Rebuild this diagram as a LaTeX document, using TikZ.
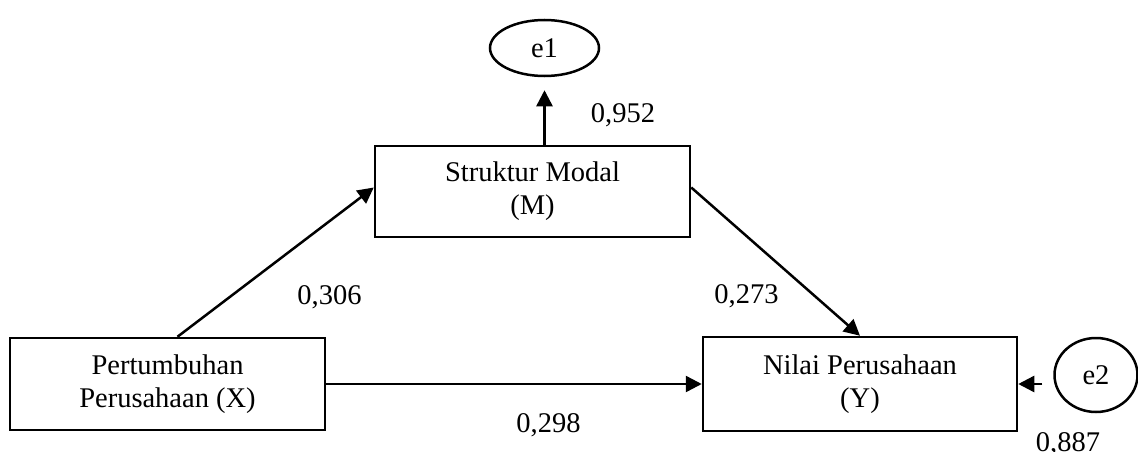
\documentclass[tikz,border=0pt]{standalone}
\usepackage{fontspec}
\setmainfont{Liberation Serif}
\usetikzlibrary{arrows.meta,shapes.geometric}
\begin{document}
\begin{tikzpicture}[x=1pt,y=-1pt,
  every node/.style={font=\fontsize{28.5}{33}\selectfont},
  varbox/.style={draw,line width=2.5pt,rectangle,align=center,inner sep=0pt},
  errnode/.style={draw,line width=2.5pt,ellipse,inner sep=0pt},
  pathline/.style={line width=2.5pt,-{Triangle[length=16pt,width=16pt]}},
  coef/.style={anchor=base,inner sep=0pt}]
\useasboundingbox (0,0) rectangle (1138,452);
\node[varbox,minimum width=315pt,minimum height=92pt] (X) at (167.5,384) {Pertumbuhan\\Perusahaan (X)};
\node[varbox,minimum width=315pt,minimum height=91pt] (M) at (532.5,191.5) {Struktur Modal\\(M)};
\node[varbox,minimum width=314pt,minimum height=94pt] (Y) at (860,384) {Nilai Perusahaan\\(Y)};
\node[errnode,minimum width=109pt,minimum height=56pt] (e1) at (544.5,48) {e1};
\node[errnode,minimum width=83pt,minimum height=74pt] (e2) at (1096,375) {e2};
\draw[pathline] ([xshift=10pt]X.north) -- ([yshift=4pt]M.west);
\draw[pathline] ([yshift=4pt]M.east) -- (Y.north);
\draw[pathline] (X.east) -- (Y.west);
\draw[pathline,shorten >=13pt] (M.north -| e1.south) -- (e1.south);
\draw[pathline,shorten <=11pt] (e2.west |- Y.east) -- (Y.east);
\node[coef] (c1) at (623,122) {0,952};
\node[coef] (c2) at (329.5,304) {0,306};
\node[coef] (c3) at (746.5,303) {0,273};
\node[coef] (c4) at (548.5,432) {0,298};
\node[coef] (c5) at (1068,451) {0,887};
\end{tikzpicture}
\end{document}
